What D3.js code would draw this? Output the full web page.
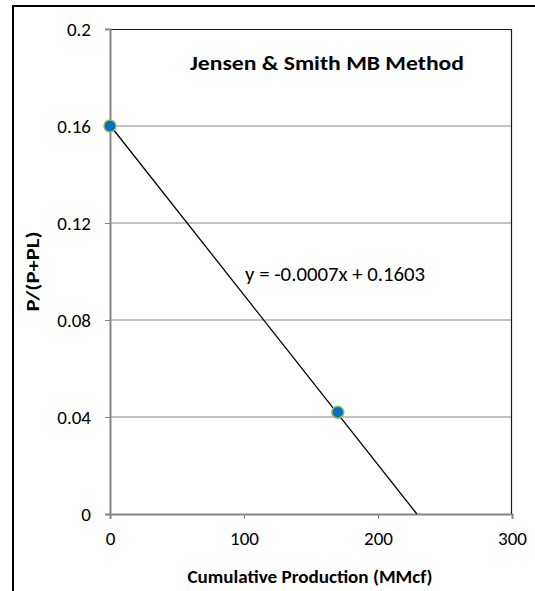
<!DOCTYPE html>
<html>
<head>
<meta charset="utf-8">
<script src="https://cdn.jsdelivr.net/npm/d3@7"></script>
<style>
  html, body { margin: 0; background: #fff; overflow: hidden; }
  svg { display: block; }
  text { font-family: Carlito, Calibri, "Open Sans", sans-serif; fill: #000; }
</style>
</head>
<body>
<svg id="chart"></svg>
<script>
const fullWidth = 535;
const fullHeight = 591;

// data points
const cumProduction = [0, 170];
const ratio = [0.16, 0.042];

// linear trend line shown on the chart
const trendSlope = -0.0007;
const trendIntercept = 0.1603;
const trendLabel = 'y = -0.0007x + 0.1603';

const xTicks = [0, 100, 200, 300];
const yTicks = [0, 0.04, 0.08, 0.12, 0.16, 0.2];

const title = 'Jensen & Smith MB Method';
const xTitle = 'Cumulative Production (MMcf)';
const yTitle = 'P/(P+PL)';

const margin = {top: 29, right: 23, bottom: 77, left: 110};
const width = fullWidth - margin.left - margin.right;
const height = fullHeight - margin.top - margin.bottom;

const svg = d3.select('#chart')
    .attr('width', fullWidth)
    .attr('height', fullHeight);

// outer chart border (only left and top edges fall inside the picture)
svg.append('path')
    .attr('d', `M13,${fullHeight + 5}V6H${fullWidth + 5}`)
    .attr('fill', 'none')
    .attr('stroke', '#000')
    .attr('stroke-width', 2);

const g = svg.append('g')
    .attr('transform', `translate(${margin.left}, ${margin.top})`);

const x = d3.scaleLinear().domain([0, 300]).range([0, width]);
const y = d3.scaleLinear().domain([0, 0.2]).range([height, 0]);

// gridlines
g.append('g').selectAll('line')
    .data(yTicks.filter(d => d > 0 && d < 0.2))
    .enter().append('line')
        .attr('x1', 0).attr('x2', width)
        .attr('y1', d => y(d)).attr('y2', d => y(d))
        .attr('stroke', '#868686')
        .attr('stroke-width', 1);

// plot area border (top, right)
g.append('path')
    .attr('d', `M0,0.5H${width - 0.5}V${height}`)
    .attr('fill', 'none')
    .attr('stroke', '#1a1a1a')
    .attr('stroke-width', 1.2);

const xAxis = g.append('g')
    .attr('transform', `translate(0, ${height})`)
    .call(d3.axisBottom(x).tickValues(xTicks).tickSize(5).tickPadding(13).tickFormat(d3.format('d')));

const yAxis = g.append('g')
    .call(d3.axisLeft(y).tickValues(yTicks).tickSize(5).tickPadding(14).tickFormat(d => d === 0 ? '0' : String(+d.toFixed(2))));

[xAxis, yAxis].forEach(a => {
    a.attr('font-size', 19).attr('font-family', 'Carlito, Calibri, "Open Sans", sans-serif');
    a.select('.domain').attr('stroke', '#868686').attr('stroke-width', 2);
    a.selectAll('.tick line').attr('stroke', '#868686').attr('stroke-width', 1);
    a.selectAll('.tick text').attr('fill', '#000');
});
yAxis.selectAll('.tick text').attr('dy', '0.35em');

// trend line from x=0 to where it meets y=0
const xEnd = -trendIntercept / trendSlope;
const line = d3.line().x(d => x(d[0])).y(d => y(d[1]));
g.append('path')
    .datum([[0, trendIntercept], [xEnd, 0]])
    .attr('d', line)
    .attr('fill', 'none')
    .attr('stroke', '#000')
    .attr('stroke-width', 1.3);

// data points
g.append('g').selectAll('circle')
    .data(cumProduction.map((d, i) => [d, ratio[i]]))
    .enter().append('circle')
        .attr('cx', d => x(d[0]))
        .attr('cy', d => y(d[1]))
        .attr('r', 6)
        .attr('fill', '#0070C0')
        .attr('stroke', '#9BBB59')
        .attr('stroke-width', 1.5);

g.append('text')
    .attr('x', x(168))
    .attr('y', y(0.099))
    .attr('dy', '0.35em')
    .attr('text-anchor', 'middle')
    .attr('font-size', '20px')
    .attr('textLength', 180)
    .attr('lengthAdjust', 'spacingAndGlyphs')
    .text(trendLabel);

// title
svg.append('text')
    .attr('x', 327)
    .attr('y', 70)
    .attr('text-anchor', 'middle')
    .attr('font-size', '20px')
    .attr('font-weight', 'bold')
    .attr('textLength', 274)
    .attr('lengthAdjust', 'spacingAndGlyphs')
    .text(title);

svg.append('text')
    .attr('x', 310)
    .attr('y', 583)
    .attr('text-anchor', 'middle')
    .attr('font-size', '17px')
    .attr('font-weight', 'bold')
    .attr('textLength', 245)
    .attr('lengthAdjust', 'spacingAndGlyphs')
    .text(xTitle);

svg.append('text')
    .attr('transform', `translate(39, ${margin.top + height / 2}) rotate(-90)`)
    .attr('text-anchor', 'middle')
    .attr('font-size', '18px')
    .attr('font-weight', 'bold')
    .attr('textLength', 80)
    .attr('lengthAdjust', 'spacingAndGlyphs')
    .text(yTitle);
</script>
</body>
</html>
